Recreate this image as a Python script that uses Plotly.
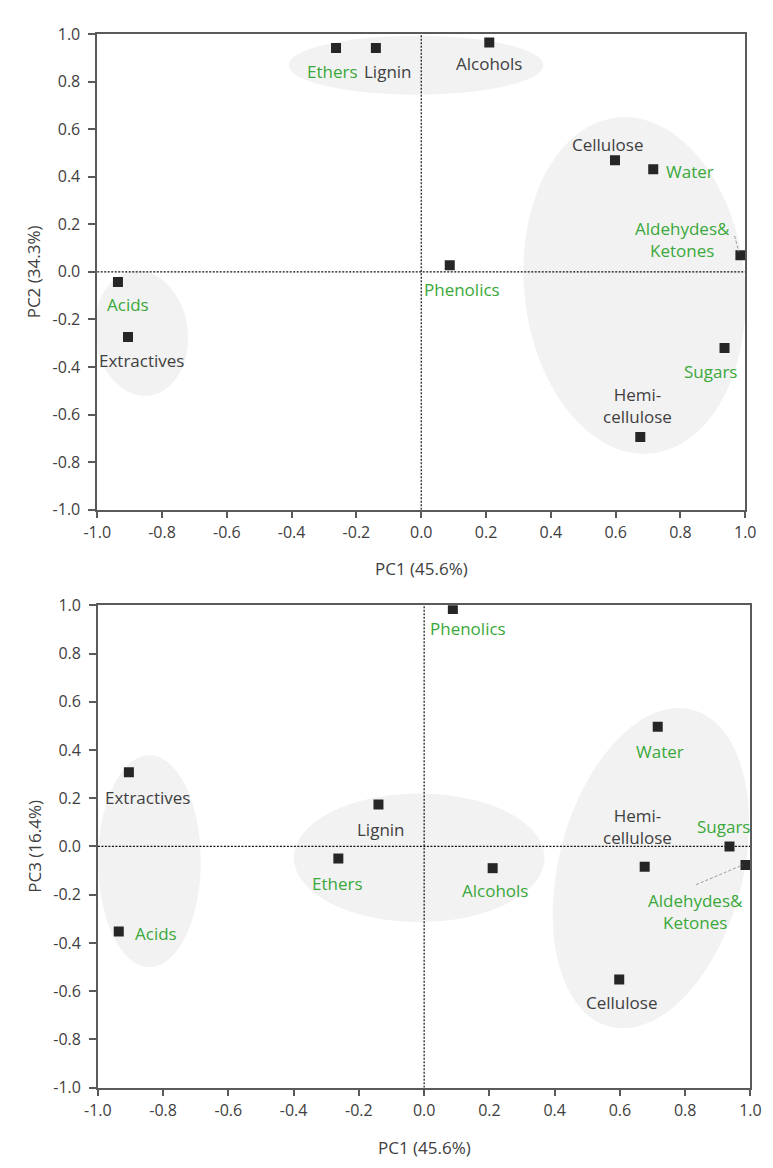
import numpy as np
import plotly.graph_objects as go

# PCA loadings of the biomass components and pyrolysis product classes
variables = ["Cellulose", "Hemicellulose", "Lignin", "Extractives", "Acids", "Alcohols",
             "Aldehydes&Ketones", "Ethers", "Phenolics", "Sugars", "Water"]
display_names = ["Cellulose", "Hemi-<br>cellulose", "Lignin", "Extractives", "Acids", "Alcohols",
                 "Aldehydes&<br>Ketones", "Ethers", "Phenolics", "Sugars", "Water"]
pc1 = [0.598, 0.676, -0.140, -0.905, -0.936, 0.210, 0.985, -0.263, 0.088, 0.936, 0.716]
pc2 = [0.469, -0.694, 0.941, -0.274, -0.043, 0.965, 0.070, 0.941, 0.028, -0.320, 0.432]
pc3 = [-0.552, -0.084, 0.174, 0.308, -0.353, -0.090, -0.077, -0.050, 0.985, 0.000, 0.496]

tick_values = [-1.0, -0.8, -0.6, -0.4, -0.2, 0.0, 0.2, 0.4, 0.6, 0.8, 1.0]
tick_labels = [f"{v:.1f}" for v in tick_values]

x_title = "PC1 (45.6%)"
y_title_top = "PC2 (34.3%)"
y_title_bottom = "PC3 (16.4%)"

# product classes are written in green, feedstock components in grey
GREEN = "#3aa83a"
GREY = "#3f3f3f"
green_top = {"Ethers", "Water", "Aldehydes&Ketones", "Phenolics", "Acids", "Sugars"}
green_bottom = {"Ethers", "Water", "Aldehydes&Ketones", "Phenolics", "Acids", "Sugars", "Alcohols"}

# label offsets from each marker, in pixels (right, down)
offsets_top = {
    "Ethers": (-4, 23), "Lignin": (12, 23), "Alcohols": (0, 21), "Cellulose": (-7, -16),
    "Water": (37, 2), "Aldehydes&Ketones": (-58, -16), "Phenolics": (12, 24),
    "Acids": (10, 22), "Extractives": (14, 23), "Sugars": (-14, 24), "Hemicellulose": (-3, -31),
}
offsets_bottom = {
    "Phenolics": (15, 20), "Water": (2, 25), "Hemicellulose": (-7, -40), "Sugars": (-6, -20),
    "Aldehydes&Ketones": (-50, 46), "Alcohols": (2, 22), "Lignin": (3, 25), "Ethers": (-1, 25),
    "Extractives": (19, 25), "Acids": (37, 2), "Cellulose": (2, 23),
}

W, H = 773, 1168
# subplot areas in pixels: (left, right, top, bottom)
top_box = (86.0, 755.7, 23.5, 508.3)
bot_box = (86.7, 761.0, 605.7, 1097.3)


def domains(box):
    l, r, t, b = box
    return [l / W, r / W], [1 - b / H, 1 - t / H]


def px_scale(box):
    l, r, t, b = box
    return (r - l) / 2.0, (b - t) / 2.0


sx_top, sy_top = px_scale(top_box)
sx_bot, sy_bot = px_scale(bot_box)


def ellipse_path(cx, cy, a_px, b_px, angle_deg, sx, sy, n=160):
    t = np.linspace(0, 2 * np.pi, n, endpoint=False)
    th = np.radians(angle_deg)
    px = a_px * np.cos(t) * np.cos(th) - b_px * np.sin(t) * np.sin(th)
    py = a_px * np.cos(t) * np.sin(th) + b_px * np.sin(t) * np.cos(th)
    xs = cx + px / sx
    ys = cy + py / sy
    return "M " + " L ".join(f"{x:.5f},{y:.5f}" for x, y in zip(xs, ys)) + " Z"


# grouping ellipses: centre (data), semi-axes (px), tilt (deg)
groups_top = [(-0.016, 0.869, 131.5, 30, 0), (-0.864, -0.258, 48, 64, 8), (0.658, -0.057, 114, 172, 6)]
groups_bottom = [(-0.842, -0.061, 53, 108, 0), (-0.015, -0.047, 129.5, 65.5, 0), (0.695, -0.090, 95, 167, -15)]

shapes = []
for cx, cy, a, b, ang in groups_top:
    shapes.append(dict(type="path", xref="x", yref="y", layer="below",
                       path=ellipse_path(cx, cy, a, b, ang, sx_top, sy_top),
                       fillcolor="#f2f2f2", line=dict(width=0)))
for cx, cy, a, b, ang in groups_bottom:
    shapes.append(dict(type="path", xref="x2", yref="y2", layer="below",
                       path=ellipse_path(cx, cy, a, b, ang, sx_bot, sy_bot),
                       fillcolor="#f2f2f2", line=dict(width=0)))

# dotted zero reference lines
dot = dict(color="#111111", width=1.2, dash="2px,1.5px")
for xr, yr in (("x", "y"), ("x2", "y2")):
    shapes.append(dict(type="line", xref=xr, yref=yr, x0=-1, x1=1, y0=0, y1=0, line=dot, layer="below"))
    shapes.append(dict(type="line", xref=xr, yref=yr, x0=0, x1=0, y0=-1, y1=1, line=dot, layer="below"))

# leader lines for the Aldehydes&Ketones labels
ak = variables.index("Aldehydes&Ketones")
lead = dict(color="#9a9a9a", width=1, dash="3px,2px")
shapes.append(dict(type="line", xref="x", yref="y",
                   x0=pc1[ak] - 6 / sx_top, y0=pc2[ak] + 19.7 / sy_top,
                   x1=pc1[ak] - 1.7 / sx_top, y1=pc2[ak] + 3.7 / sy_top, line=lead))
shapes.append(dict(type="line", xref="x2", yref="y2",
                   x0=pc1[ak] - 51 / sx_bot, y0=pc3[ak] - 20 / sy_bot,
                   x1=pc1[ak] - 3 / sx_bot, y1=pc3[ak], line=lead))

fig = go.Figure()
marker = dict(symbol="square", size=10, color="#262626", line=dict(width=0))
fig.add_trace(go.Scatter(x=pc1, y=pc2, mode="markers", marker=marker, xaxis="x", yaxis="y",
                         hoverinfo="text", text=variables, showlegend=False))
fig.add_trace(go.Scatter(x=pc1, y=pc3, mode="markers", marker=marker, xaxis="x2", yaxis="y2",
                         hoverinfo="text", text=variables, showlegend=False))

annotations = []
for i, name in enumerate(variables):
    dx, dy = offsets_top[name]
    annotations.append(dict(x=pc1[i], y=pc2[i], xref="x", yref="y", text=display_names[i],
                            showarrow=False, xshift=dx, yshift=-dy,
                            xanchor="center", yanchor="middle",
                            font=dict(family="Open Sans", size=17,
                                      color=GREEN if name in green_top else GREY)))
    dx, dy = offsets_bottom[name]
    annotations.append(dict(x=pc1[i], y=pc3[i], xref="x2", yref="y2", text=display_names[i],
                            showarrow=False, xshift=dx, yshift=-dy,
                            xanchor="center", yanchor="middle",
                            font=dict(family="Open Sans", size=17,
                                      color=GREEN if name in green_bottom else GREY)))

title_font = dict(family="Open Sans", size=17, color="#404040")
title_common = dict(xref="paper", yref="paper", showarrow=False, xanchor="center", yanchor="middle",
                    font=title_font)
annotations += [
    dict(x=421 / W, y=1 - 568 / H, text=x_title, **title_common),
    dict(x=424 / W, y=1 - 1158 / H, text=x_title, **title_common),
    dict(x=21 / W, y=1 - 266 / H, text=y_title_top, textangle=-90, **title_common),
    dict(x=21 / W, y=1 - 851.5 / H, text=y_title_bottom, textangle=-90, **title_common),
]

axis_style = dict(range=[-1, 1], tickvals=tick_values, ticktext=tick_labels, showgrid=False, zeroline=False,
                  showline=True, mirror=True, linecolor="#5a5a5a", linewidth=1.5,
                  ticks="outside", ticklen=7, tickwidth=1.5, tickcolor="#5a5a5a",
                  tickfont=dict(family="Open Sans", size=16, color="#404040"), fixedrange=True)

xd_top, yd_top = domains(top_box)
xd_bot, yd_bot = domains(bot_box)

fig.update_layout(
    width=W, height=H, autosize=False,
    margin=dict(l=0, r=0, t=0, b=0),
    paper_bgcolor="white", plot_bgcolor="white",
    xaxis=dict(domain=xd_top, anchor="y", **axis_style),
    yaxis=dict(domain=yd_top, anchor="x", ticklabelstandoff=5, **axis_style),
    xaxis2=dict(domain=xd_bot, anchor="y2", **axis_style),
    yaxis2=dict(domain=yd_bot, anchor="x2", ticklabelstandoff=5, **axis_style),
    shapes=shapes,
    annotations=annotations,
)

# the figure fills the page exactly, so drop the default body margin
fig.write_html("out.html",
               post_script="document.body.style.margin='0';document.body.style.overflow='hidden';")
